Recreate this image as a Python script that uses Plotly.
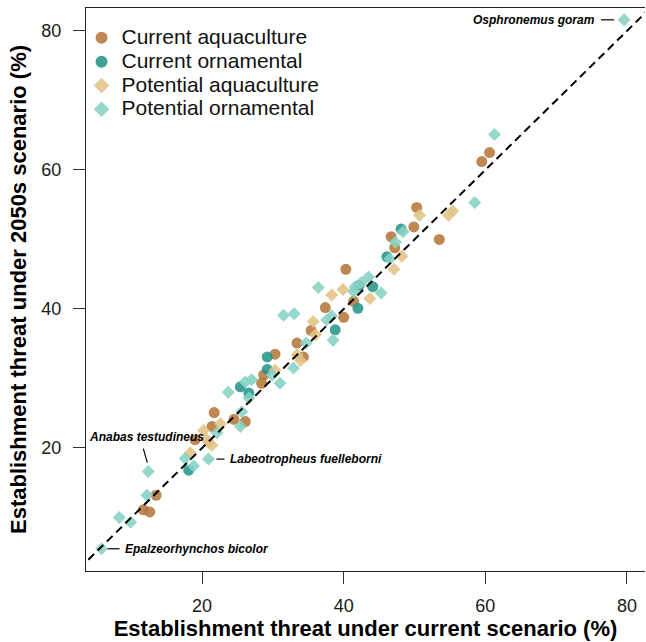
import plotly.graph_objects as go

# ---- data ----
ca_x = [60.6, 59.5, 53.5, 50.3, 49.9, 46.7, 47.2, 40.3, 41.4, 37.4, 40.0, 35.4, 33.4, 30.3, 34.3, 28.7, 28.4, 21.7, 24.5, 26.1, 21.4, 19.0, 13.5, 11.7, 12.6]
ca_y = [62.5, 61.2, 50.0, 54.6, 51.8, 50.4, 48.8, 45.7, 41.1, 40.2, 38.8, 36.9, 35.1, 33.5, 33.1, 30.5, 29.3, 25.1, 24.1, 23.8, 23.1, 21.2, 13.2, 11.1, 10.8]

co_x = [48.1, 46.1, 42.2, 44.1, 42.0, 38.8, 29.2, 29.2, 25.4, 26.6, 18.1]
co_y = [51.5, 47.5, 43.4, 43.2, 40.1, 37.0, 33.1, 31.3, 28.8, 27.9, 16.8]

pa_x = [54.8, 55.4, 50.7, 48.2, 47.1, 39.9, 38.3, 43.7, 35.7, 36.0, 33.4, 30.3, 33.9, 22.6, 20.2, 20.9, 20.7, 18.3, 21.4]
pa_y = [53.5, 54.1, 53.5, 47.6, 45.7, 42.8, 42.0, 41.5, 38.2, 36.3, 33.4, 31.2, 32.6, 23.5, 22.5, 20.8, 21.2, 19.3, 20.4]

po_x = [79.6, 61.3, 58.5, 48.4, 47.3, 46.5, 43.5, 42.5, 41.4, 45.3, 36.4, 41.6, 31.5, 33.0, 37.6, 38.3, 38.5, 34.7,
        32.9, 29.9, 31.0, 26.1, 27.0, 23.7, 26.6, 25.6, 25.4, 22.1, 17.6, 18.8, 20.9, 12.4, 12.2, 8.3, 9.9, 5.8]
po_y = [81.6, 65.1, 55.3, 51.1, 49.6, 47.2, 44.6, 43.8, 42.5, 42.3, 43.1, 43.2, 39.1, 39.3, 38.4, 39.0, 35.5, 35.1,
        31.5, 30.5, 29.3, 29.5, 29.8, 28.0, 27.2, 25.2, 23.1, 22.2, 18.5, 17.4, 18.4, 16.6, 13.2, 10.0, 9.3, 5.5]

series_names = ["Current aquaculture", "Current ornamental", "Potential aquaculture", "Potential ornamental"]

# labelled species: (name, index into potential ornamental)
label_species = ["Osphronemus goram", "Anabas testudineus", "Labeotropheus fuelleborni", "Epalzeorhynchos bicolor"]
label_index = [0, 31, 30, 35]

x_ticks = [20, 40, 60, 80]
y_ticks = [20, 40, 60, 80]

x_title = "Establishment threat under current scenario (%)"
y_title = "Establishment threat under 2050s scenario (%)"

# ---- styling ----
FONT = "Liberation Sans, Arial, Helvetica, sans-serif"
col = ["#b5783b", "#26968a", "#e2c384", "#88d2c5"]
sym = ["circle", "circle", "diamond", "diamond"]
size = [11, 11, 10, 10]

fig = go.Figure()
for name, xs, ys, c, s, sz in zip(series_names, [ca_x, co_x, pa_x, po_x], [ca_y, co_y, pa_y, po_y], col, sym, size):
    fig.add_trace(go.Scatter(
        x=xs, y=ys, mode="markers",
        name='<span style="font-size:21px">%s</span>' % name,
        marker=dict(color=c, symbol=s, size=sz, opacity=0.88, line=dict(width=0)),
    ))

# 1:1 reference line
fig.add_trace(go.Scatter(x=[0, 100], y=[0, 100], mode="lines", showlegend=False, hoverinfo="skip",
                         line=dict(color="black", width=2, dash="8px,5px")))

# label placement (pixel offsets relative to the labelled point)
lab_style = [
    dict(xanchor="right", xshift=-27, yshift=0, line=(-23, 0, -10, 0)),
    dict(xanchor="center", xshift=-2, yshift=35, line=(-5, 23, -1, 9)),
    dict(xanchor="left", xshift=20, yshift=0, line=(8, 0, 16, 0)),
    dict(xanchor="left", xshift=21, yshift=0, line=(6, 0, 18, 0)),
]
for nm, idx, st in zip(label_species, label_index, lab_style):
    px, py = po_x[idx], po_y[idx]
    fig.add_annotation(x=px, y=py, text="<b><i>%s</i></b>" % nm, showarrow=False,
                       xanchor=st["xanchor"], yanchor="middle", xshift=st["xshift"], yshift=st["yshift"],
                       font=dict(family=FONT, size=12, color="black"))
    x0, y0, x1, y1 = st["line"]
    fig.add_shape(type="line", xref="x", yref="y", xsizemode="pixel", ysizemode="pixel",
                  xanchor=px, yanchor=py, x0=x0, x1=x1, y0=y0, y1=y1,
                  line=dict(color="black", width=1.2))

fig.update_layout(
    width=646, height=642,
    margin=dict(l=86, r=1, t=8, b=71),
    plot_bgcolor="white", paper_bgcolor="white",
    font=dict(family=FONT, color="#1a1a1a"),
    showlegend=True,
    legend=dict(x=-0.008, y=0.977, xanchor="left", yanchor="top", bgcolor="rgba(0,0,0,0)",
                font=dict(family=FONT, size=16, color="#111"), itemsizing="constant", tracegroupgap=0),
)
fig.update_xaxes(range=[3.6, 82.55], tickvals=x_ticks, ticks="outside", ticklen=12, tickwidth=1,
                 tickcolor="#333", showgrid=False, zeroline=False, showline=True, mirror=True,
                 linecolor="#222", linewidth=1.2, tickfont=dict(size=18, color="#1a1a1a"),
                 ticklabelstandoff=6,
                 title=dict(text="<b>%s</b>" % x_title, font=dict(size=22, color="black"), standoff=2))
fig.update_yaxes(range=[2.3, 83.3], tickvals=y_ticks, ticks="outside", ticklen=12, tickwidth=1,
                 tickcolor="#333", showgrid=False, zeroline=False, showline=True, mirror=False,
                 linecolor="#222", linewidth=1.2, tickfont=dict(size=18, color="#1a1a1a"),
                 ticklabelstandoff=8,
                 title=dict(text="<b>%s</b>" % y_title, font=dict(size=22, color="black"), standoff=8))

fig.write_html("out.html")
